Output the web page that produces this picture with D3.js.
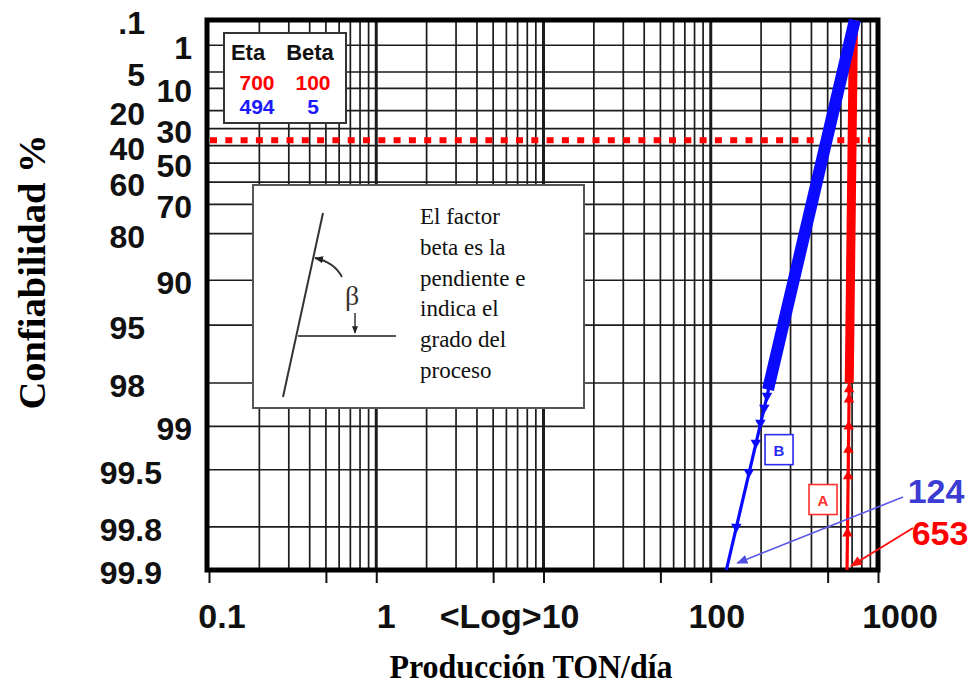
<!DOCTYPE html>
<html>
<head>
<meta charset="utf-8">
<script src="https://cdn.jsdelivr.net/npm/d3@7"></script>
<style>
  body { margin: 0; background: #fff; }
  svg { display: block; }
</style>
</head>
<body>
<div id="chart"></div>
<script>
// --- values ---
const reliabilityTicks = [0.1, 1, 5, 10, 20, 30, 40, 50, 60, 70, 80, 90, 95, 98, 99, 99.5, 99.8, 99.9];
const reliabilityLabels = [".1", "1", "5", "10", "20", "30", "40", "50", "60", "70", "80", "90", "95", "98", "99", "99.5", "99.8", "99.9"];
const leftColumn = [".1", "5", "20", "40", "60", "80", "95", "98"];
const productionTicks = [0.1, 1, 10, 100, 1000];
const productionLabels = ["0.1", "1", "<Log>10", "100", "1000"];

const etaValues = [700, 494];
const betaValues = [100, 5];
const seriesNames = ["A", "B"];

// line ends (reliability %, TON/dia)
const lineA = [[99.9, 653], [0.1, 714]];
const lineB = [[99.9, 124], [0.1, 727]];
// single markers at the low end
const markersA_R = [99.82, 99.55, 99.31, 99.0, 98.46, 98.19];
const markersA_T = [657, 663, 666, 668, 671, 672];
const markersB_R = [99.80, 99.52, 99.23, 98.94, 98.65, 98.37];
const markersB_T = [142, 169, 186, 198, 209, 217];
// dense run of markers
const bandA = [[98.0, 673], [0.1, 714]];
const bandB = [[98.2, 220], [0.1, 727]];
const etaReliability = 36.8;

const W = 976, H = 686;
const plotL = 207, plotR = 878, plotT = 20, plotB = 570;

const svg = d3.select("#chart").append("svg").attr("width", W).attr("height", H);
const defs = svg.append("defs");
function arrowHead(id, color, size){
    defs.append("marker").attr("id", id).attr("viewBox", "0 0 10 10")
        .attr("refX", 9).attr("refY", 5).attr("markerWidth", size).attr("markerHeight", size)
        .attr("orient", "auto-start-reverse")
        .append("path").attr("d", "M0,1 L10,5 L0,9 z").attr("fill", color);
}
arrowHead("arB", "#5050e0", 7);
arrowHead("arA", "#ff1010", 6);
arrowHead("arK", "#222", 5);

const x = d3.scaleLog().domain([0.1, 1000]).range([209, plotR]);
const weib = r => Math.log(-Math.log(r / 100));
const yLin = d3.scaleLinear().domain([weib(99.9), weib(0.1)]).range([plotB, plotT]);
const y = r => yLin(weib(r));

const isDecade = v => Math.abs(Math.log10(v) - Math.round(Math.log10(v))) < 1e-6;
const isFive = v => Math.abs(v / Math.pow(10, Math.floor(Math.log10(v) + 1e-9)) - 5) < 1e-6;

// grid
const grid = svg.append("g");
const xt = x.ticks().filter(v => v > 0.1 * 1.01 && v < 999);
grid.selectAll(".vg").data(xt).join("line")
    .attr("x1", d => x(d)).attr("x2", d => x(d)).attr("y1", plotT).attr("y2", plotB)
    .attr("stroke", "#1c1c1c").attr("stroke-width", d => isDecade(d) ? 3 : 1.7);
grid.selectAll(".hg").data(reliabilityTicks.filter(v => v > 0.1 && v < 99.9)).join("line")
    .attr("x1", plotL).attr("x2", plotR).attr("y1", d => y(d)).attr("y2", d => y(d))
    .attr("stroke", "#1c1c1c").attr("stroke-width", 1.7);

// ticks under the frame
const tickG = svg.append("g").attr("transform", `translate(0,${plotB})`);
tickG.call(d3.axisBottom(x).tickValues(x.ticks().filter(v => !isDecade(v) && !isFive(v))).tickSize(7).tickFormat(""));
tickG.call(d3.axisBottom(x).tickValues(x.ticks().filter(v => isDecade(v) || isFive(v))).tickSize(13).tickFormat(""));
tickG.selectAll(".domain").remove();
tickG.selectAll(".tick line").attr("stroke", "#111").attr("stroke-width", 2);

// frame
svg.append("rect").attr("x", plotL).attr("y", plotT).attr("width", plotR - plotL).attr("height", plotB - plotT)
    .attr("fill", "none").attr("stroke", "#000").attr("stroke-width", 5);

// eta line
svg.append("line").attr("x1", 210).attr("x2", 870)
    .attr("y1", y(etaReliability)).attr("y2", y(etaReliability))
    .attr("stroke", "#ff0000").attr("stroke-width", 6).attr("stroke-dasharray", "7 8.3");

// legend box
const leg = svg.append("g");
leg.append("rect").attr("x", 224).attr("y", 33).attr("width", 122).attr("height", 90)
    .attr("fill", "#fff").attr("stroke", "#333").attr("stroke-width", 2);
leg.append("text").attr("x", 248).attr("y", 60).attr("text-anchor", "middle").text("Eta");
leg.append("text").attr("x", 310).attr("y", 60).attr("text-anchor", "middle").text("Beta");
leg.selectAll("text").attr("font-family", "Liberation Sans, Arial, sans-serif")
    .attr("font-weight", "bold").attr("font-size", 22).attr("fill", "#111");
const legColors = ["#ff0000", "#1a1aff"];
etaValues.forEach((v, i) => {
    leg.append("text").attr("x", 257).attr("y", 90 + i * 24).attr("text-anchor", "middle")
        .attr("font-family", "Liberation Sans, Arial, sans-serif").attr("font-size", 21)
        .attr("font-weight", "bold").attr("fill", legColors[i]).text(v);
    leg.append("text").attr("x", 313).attr("y", 90 + i * 24).attr("text-anchor", "middle")
        .attr("font-family", "Liberation Sans, Arial, sans-serif").attr("font-size", 21)
        .attr("font-weight", "bold").attr("fill", legColors[i]).text(betaValues[i]);
});

// inset explaining beta
const ins = svg.append("g");
ins.append("rect").attr("x", 253).attr("y", 185).attr("width", 331).attr("height", 223)
    .attr("fill", "#fff").attr("stroke", "#555").attr("stroke-width", 2);
ins.append("line").attr("x1", 283).attr("y1", 397).attr("x2", 323).attr("y2", 213)
    .attr("stroke", "#333").attr("stroke-width", 2);
ins.append("line").attr("x1", 298).attr("y1", 336).attr("x2", 396).attr("y2", 336)
    .attr("stroke", "#555").attr("stroke-width", 2);
ins.append("path").attr("d", "M342,277 Q334,262 315,258")
    .attr("fill", "none").attr("stroke", "#333").attr("stroke-width", 1.8).attr("marker-end", "url(#arK)");
ins.append("line").attr("x1", 355).attr("y1", 313).attr("x2", 355).attr("y2", 333)
    .attr("stroke", "#333").attr("stroke-width", 1.5).attr("marker-end", "url(#arK)");
ins.append("text").attr("x", 352).attr("y", 305).attr("text-anchor", "middle")
    .attr("font-family", "Liberation Serif, Times New Roman, serif").attr("font-size", 28)
    .attr("fill", "#3a3330").text("β");
const insetLines = ["El factor", "beta es la", "pendiente e", "indica el", "grado del", "proceso"];
ins.selectAll(".il").data(insetLines).join("text")
    .attr("x", 420).attr("y", (d, i) => 224 + i * 30.8)
    .attr("font-family", "Liberation Serif, Times New Roman, serif").attr("font-size", 23)
    .attr("fill", "#111").text(d => d);

// series
const line = d3.line().x(d => x(d[1])).y(d => y(d[0]));
function drawSeries(ends, band, mR, mT, color, bandWidth, rot){
    svg.append("path").attr("d", line(ends)).attr("fill", "none")
        .attr("stroke", color).attr("stroke-width", 3.2);
    svg.append("path").attr("d", line(band)).attr("fill", "none")
        .attr("stroke", color).attr("stroke-width", bandWidth);
    svg.append("g").selectAll("path").data(mR).join("path")
        .attr("d", d3.symbol(d3.symbolTriangle, 48))
        .attr("transform", (d, i) => `translate(${x(mT[i])},${y(d)}) rotate(${rot})`)
        .attr("fill", color);
}
drawSeries(lineA, bandA, markersA_R, markersA_T, "#ff0000", 9, 0);
drawSeries(lineB, bandB, markersB_R, markersB_T, "#0a0aff", 12, 180);

// series letter boxes
const boxA = [99.69, 469], boxB = [99.31, 256];
[[boxA, "#ff3030", seriesNames[0]], [boxB, "#2a2aee", seriesNames[1]]].forEach(([p, c, t]) => {
    const cx = x(p[1]), cy = y(p[0]);
    svg.append("rect").attr("x", cx - 14).attr("y", cy - 15).attr("width", 28).attr("height", 30)
        .attr("fill", "#fff").attr("stroke", c).attr("stroke-width", 1.6);
    svg.append("text").attr("x", cx).attr("y", cy + 6).attr("text-anchor", "middle")
        .attr("font-family", "Liberation Sans, Arial, sans-serif").attr("font-weight", "bold")
        .attr("font-size", 15).attr("fill", c).text(t);
});

// end value call-outs
svg.append("line").attr("x1", 903).attr("y1", 497)
    .attr("x2", x(lineB[0][1]) + 11).attr("y2", y(lineB[0][0]) - 7)
    .attr("stroke", "#5a5ae6").attr("stroke-width", 1.6).attr("marker-end", "url(#arB)");
svg.append("line").attr("x1", 913).attr("y1", 528)
    .attr("x2", x(lineA[0][1]) + 4).attr("y2", y(lineA[0][0]) - 4)
    .attr("stroke", "#ff1010").attr("stroke-width", 2).attr("marker-end", "url(#arA)");
svg.append("text").attr("x", 936).attr("y", 503).attr("text-anchor", "middle")
    .attr("font-family", "Liberation Sans, Arial, sans-serif").attr("font-weight", "bold")
    .attr("font-size", 34).attr("fill", "#3c3cd2").text(lineB[0][1]);
svg.append("text").attr("x", 940).attr("y", 545).attr("text-anchor", "middle")
    .attr("font-family", "Liberation Sans, Arial, sans-serif").attr("font-weight", "bold")
    .attr("font-size", 34).attr("fill", "#ff0000").text(lineA[0][1]);

// y tick labels
svg.append("g").selectAll("text").data(reliabilityTicks).join("text")
    .attr("x", (d, i) => {
        const lab = reliabilityLabels[i];
        if (lab.startsWith("99.")) return 162;
        return leftColumn.includes(lab) ? 145 : 192;
    })
    .attr("y", d => y(d) + 14)
    .attr("text-anchor", "end")
    .attr("font-family", "Liberation Sans, Arial, sans-serif").attr("font-weight", "bold")
    .attr("font-size", 32).attr("fill", "#111")
    .text((d, i) => reliabilityLabels[i]);

// x tick labels
const xLabelShift = [13, 10, 36, 6, 22];
svg.append("g").selectAll("text").data(productionTicks).join("text")
    .attr("x", (d, i) => x(d) + xLabelShift[i])
    .attr("y", 628)
    .attr("text-anchor", (d, i) => productionLabels[i].startsWith("<") ? "end" : "middle")
    .attr("font-family", "Liberation Sans, Arial, sans-serif").attr("font-weight", "bold")
    .attr("font-size", 34).attr("fill", "#111")
    .text((d, i) => productionLabels[i]);

// axis titles
svg.append("text").attr("x", 531).attr("y", 678).attr("text-anchor", "middle")
    .attr("font-family", "Liberation Serif, Times New Roman, serif").attr("font-weight", "bold")
    .attr("font-size", 33).attr("textLength", 283).attr("lengthAdjust", "spacingAndGlyphs")
    .attr("fill", "#000").text("Producción TON/día");
svg.append("text").attr("transform", "translate(45,272) rotate(-90)").attr("text-anchor", "middle")
    .attr("font-family", "Liberation Serif, Times New Roman, serif").attr("font-weight", "bold")
    .attr("font-size", 38).attr("textLength", 275).attr("lengthAdjust", "spacingAndGlyphs")
    .attr("fill", "#000").text("Confiabilidad %");
</script>
</body>
</html>
